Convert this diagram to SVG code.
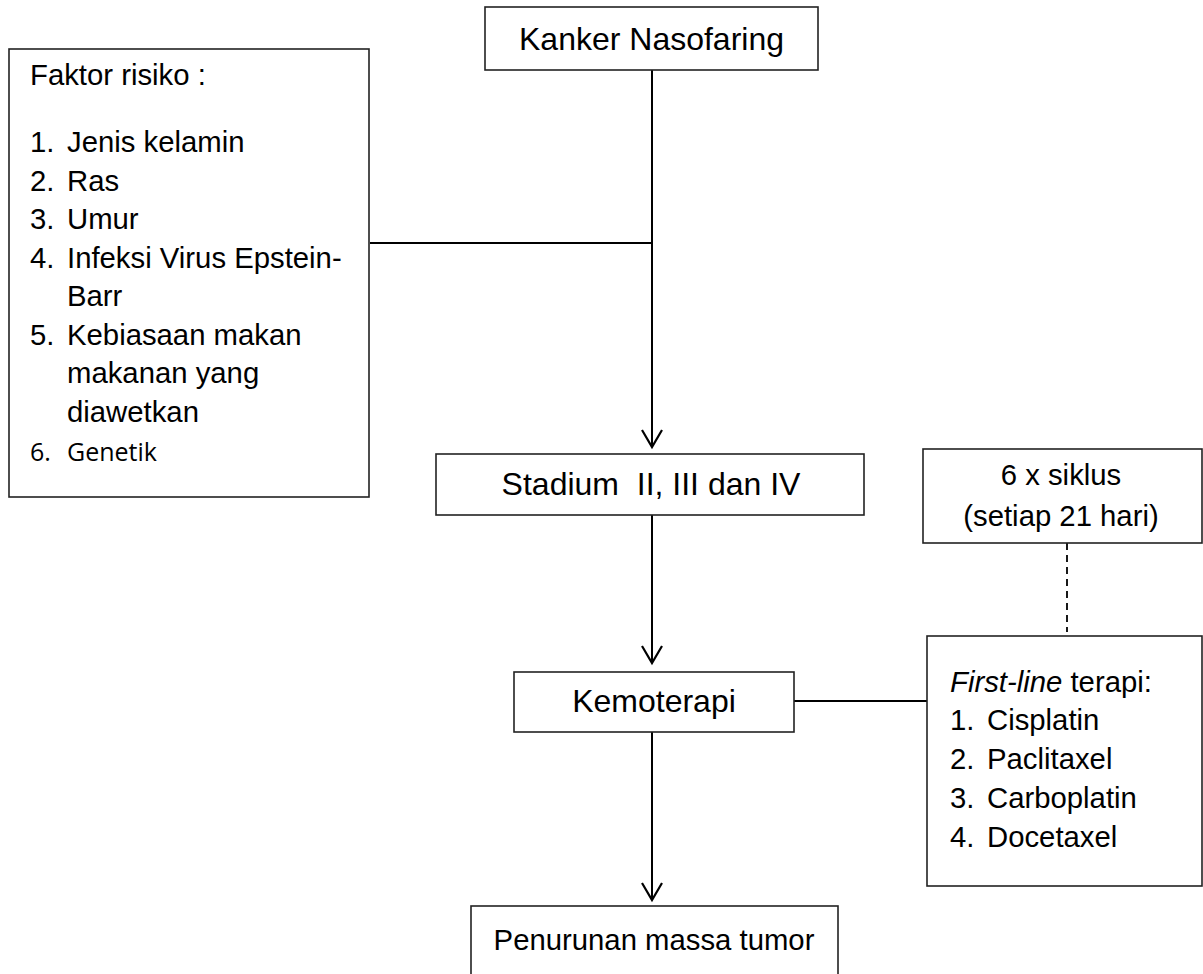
<svg xmlns="http://www.w3.org/2000/svg" width="1203" height="974" viewBox="0 0 1203 974">
<style>
.box{fill:#fff;stroke:#222;stroke-width:1.6}
.t{font-family:"Liberation Sans",Arial,sans-serif;fill:#000}
.big{font-size:32px}
.sm{font-size:29.3px}
.cal{font-family:"Open Sans","Noto Sans",sans-serif;font-size:25px;fill:#000}
.ln{fill:none;stroke:#000;stroke-width:2}
.ah{fill:none;stroke:#000;stroke-width:2.2}
.dash{fill:none;stroke:#000;stroke-width:1.8;stroke-dasharray:7,5}
</style>
<rect width="1203" height="974" fill="#fff"/>
<g id="connectors">
<line class="ln" x1="652" y1="70" x2="652" y2="447"/>
<line class="ln" x1="370" y1="243" x2="652" y2="243"/>
<polyline class="ah" points="642,430 652,447 662,430"/>
<line class="ln" x1="652" y1="515" x2="652" y2="663"/>
<polyline class="ah" points="642,646 652,663 662,646"/>
<line class="ln" x1="794" y1="701" x2="927" y2="701"/>
<line class="ln" x1="652" y1="732" x2="652" y2="900"/>
<polyline class="ah" points="642,883 652,900 662,883"/>
<line class="dash" x1="1067" y1="543" x2="1067" y2="632"/>
</g>
<g id="kanker">
<rect class="box" x="485" y="7" width="333" height="63"/>
<text class="t big" x="651.5" y="50" text-anchor="middle">Kanker Nasofaring</text>
</g>
<g id="faktor">
<rect class="box" x="9" y="49" width="360" height="448"/>
<text class="t sm" x="30" y="85">Faktor risiko :</text>
<g class="t sm">
<text x="30" y="152">1.</text><text x="67" y="152">Jenis kelamin</text>
<text x="30" y="190.5">2.</text><text x="67" y="190.5">Ras</text>
<text x="30" y="229">3.</text><text x="67" y="229">Umur</text>
<text x="30" y="267.5">4.</text><text x="67" y="267.5">Infeksi Virus Epstein-</text>
<text x="67" y="306">Barr</text>
<text x="30" y="344.5">5.</text><text x="67" y="344.5">Kebiasaan makan</text>
<text x="67" y="383">makanan yang</text>
<text x="67" y="421.5">diawetkan</text>
</g>
<text class="cal" x="30" y="461">6.</text><text class="cal" x="67" y="461">Genetik</text>
</g>
<g id="stadium">
<rect class="box" x="436" y="454" width="428" height="61"/>
<text class="t big" x="651" y="495" text-anchor="middle" xml:space="preserve">Stadium  II, III dan IV</text>
</g>
<g id="siklus">
<rect class="box" x="923" y="449" width="279" height="94"/>
<text class="t sm" x="1061" y="485" text-anchor="middle">6 x siklus</text>
<text class="t sm" x="1061" y="526" text-anchor="middle">(setiap 21 hari)</text>
</g>
<g id="kemoterapi">
<rect class="box" x="514" y="672" width="280" height="60"/>
<text class="t big" x="654" y="712" text-anchor="middle">Kemoterapi</text>
</g>
<g id="firstline">
<rect class="box" x="927" y="636" width="275" height="250"/>
<text class="t sm" x="950" y="692"><tspan font-style="italic">First-line</tspan> terapi:</text>
<g class="t sm">
<text x="950" y="730">1.</text><text x="987" y="730">Cisplatin</text>
<text x="950" y="769">2.</text><text x="987" y="769">Paclitaxel</text>
<text x="950" y="808">3.</text><text x="987" y="808">Carboplatin</text>
<text x="950" y="847">4.</text><text x="987" y="847">Docetaxel</text>
</g>
</g>
<g id="penurunan">
<rect class="box" x="471" y="906" width="367" height="90"/>
<text class="t sm" x="654" y="950" text-anchor="middle">Penurunan massa tumor</text>
</g>
</svg>
